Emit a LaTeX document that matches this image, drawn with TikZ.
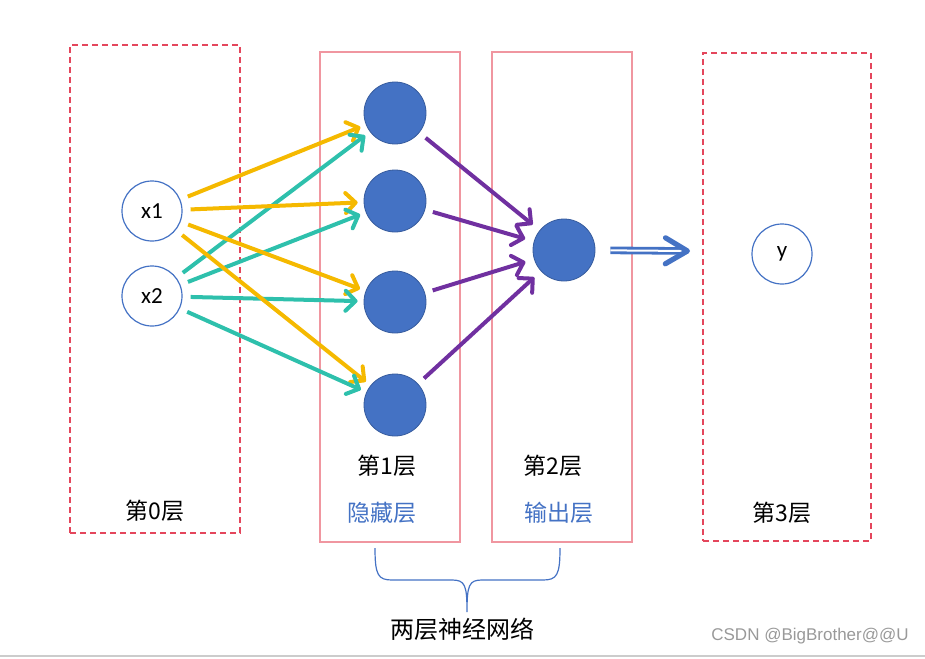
\documentclass[tikz,border=0pt]{standalone}
\usepackage{fontspec}
\setmainfont{Carlito}
\newfontfamily\cjk{Noto Sans CJK SC}
\newfontfamily\wmfont{Liberation Sans}
\usetikzlibrary{arrows.meta,positioning}

\definecolor{dashred}{RGB}{228,70,92}
\definecolor{boxpink}{RGB}{240,150,160}
\definecolor{nodeblue}{RGB}{68,114,196}
\definecolor{xyellow}{RGB}{245,185,0}
\definecolor{xteal}{RGB}{46,192,172}
\definecolor{hpurple}{RGB}{112,48,160}

\begin{document}
\begin{tikzpicture}[x=0.5pt,y=-0.5pt,
    dashbox/.style={draw=dashred,dashed,dash pattern=on 3pt off 2pt,line width=0.8pt},
    solidbox/.style={draw=boxpink,line width=1pt},
    innode/.style={circle,draw=nodeblue,line width=0.6pt,minimum size=30pt,inner sep=0pt,font=\fontsize{11.5}{11.5}\selectfont},
    hidnode/.style={circle,fill=nodeblue,draw=nodeblue!80!black,line width=0.4pt,minimum size=31pt,inner sep=0pt},
    layerlbl/.style={font=\cjk\fontsize{11.5}{11.5}\selectfont},
    arr/.style={line width=2pt,-{Straight Barb[length=5pt,width=10pt,round]},shorten <=4pt,shorten >=3pt},
    yarr/.style={arr,draw=xyellow},
    tarr/.style={arr,draw=xteal},
    parr/.style={arr,draw=hpurple,shorten >=4.5pt}]
\useasboundingbox (0,0) rectangle (925,658);

% layers
\node[dashbox,minimum width=85pt,minimum height=244pt]  (L0) at (155,289) {};
\node[solidbox,minimum width=70pt,minimum height=245pt] (L1) at (390,297) {};
\node[solidbox,minimum width=70pt,minimum height=245pt] (L2) at (562,297) {};
\node[dashbox,minimum width=84pt,minimum height=244pt]  (L3) at (787,297) {};

\node[layerlbl] (t0) at (155,511) {第0层};
\node[layerlbl] (t1) at (387,466) {第1层};
\node[layerlbl,text=nodeblue] (n1) at (382,513) {隐藏层};
\node[layerlbl] (t2) at (553,466) {第2层};
\node[layerlbl,text=nodeblue] (n2) at (559,513) {输出层};
\node[layerlbl] (t3) at (782,513) {第3层};

% neurons
\node[innode] (x1) at (152,211) {x1};
\node[innode] (x2) at (152,296) {x2};
\node[hidnode] (h1) at (395,113) {};
\node[hidnode] (h2) at (395,201) {};
\node[hidnode] (h3) at (395,302) {};
\node[hidnode] (h4) at (395,405) {};
\node[hidnode] (out) at (564,250) {};
\node[innode] (y) at (782,254) {y};

% weights
\foreach \h in {h1,h2,h3,h4}{
  \draw[yarr] (x1) -- (\h);
  \draw[tarr] (x2) -- (\h);
  \draw[parr] (\h) -- (out);
}

% output arrow
\coordinate (tip) at (690,251);
\draw[draw=nodeblue,double=white,double distance=1pt,line width=1.4pt,shorten <=7.5pt,
      -{Straight Barb[length=11pt,width=13pt,line width=2.6pt,round]}] (out) -- (tip);

% brace
\draw[nodeblue,line width=0.6pt] (375,548) .. controls (375,575) and (378,580) .. (392,580)
  -- (452,580) .. controls (465,580) and (467,585) .. (467,612)
  .. controls (467,585) and (469,580) .. (482,580) -- (543,580)
  .. controls (557,580) and (560,575) .. (560,548);
\node[font=\cjk\fontsize{12}{12}\selectfont] (two) at (462,629) {两层神经网络};

\node[font=\wmfont\fontsize{8.5}{8.5}\selectfont,text=black!40] (wm) at (810,636) {CSDN @BigBrother@@U};
\draw[black!20,line width=0.6pt] (0,656) -- (925,656);
\end{tikzpicture}
\end{document}
